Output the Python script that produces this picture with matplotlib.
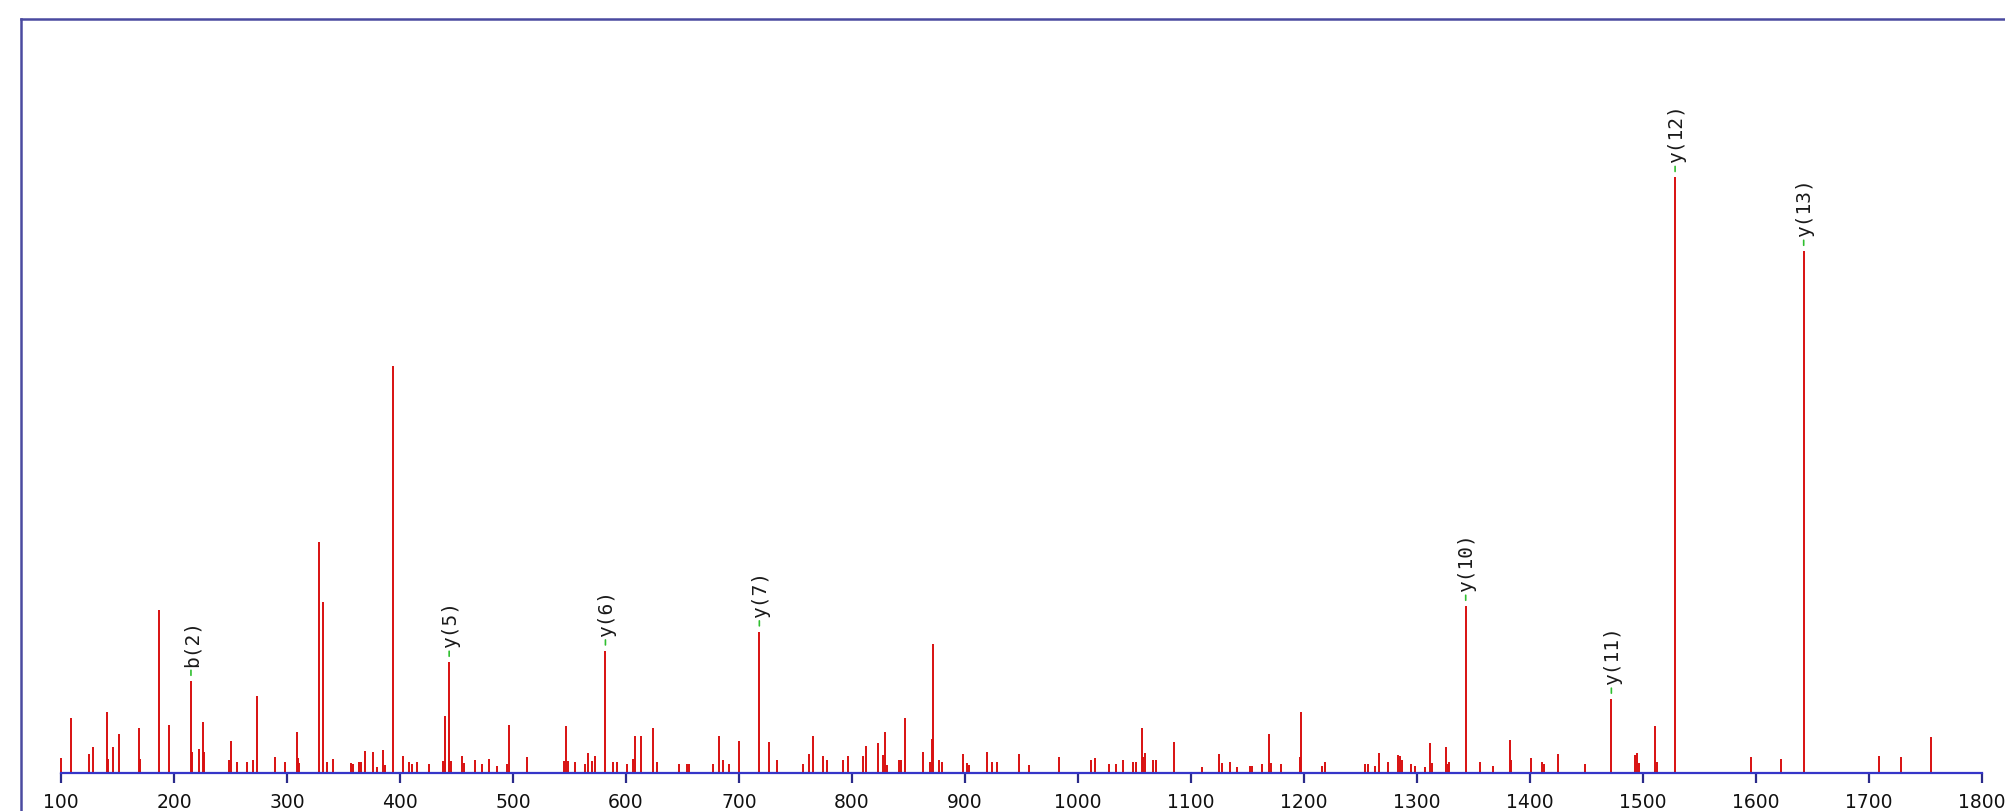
import numpy as np
import matplotlib
matplotlib.use("Agg")
import matplotlib.pyplot as plt
from matplotlib.lines import Line2D

# peak list: m/z and relative intensity (%)
mz = [100.0, 108.8, 124.8, 128.3, 140.7, 141.5, 146.0, 151.3, 169.0, 170.0,
      186.7, 195.6, 215.0, 216.2, 222.0, 225.7, 226.8, 248.7, 250.4, 255.8,
      264.6, 270.0, 273.5, 289.4, 298.2, 308.8, 310.0, 311.0, 328.3, 331.9,
      335.4, 340.7, 356.6, 358.4, 363.7, 365.5, 369.0, 376.3, 379.5, 384.6,
      386.5, 393.7, 402.7, 408.0, 410.7, 415.0, 426.0, 438.3, 439.5, 443.5,
      445.0, 454.9, 457.0, 466.0, 472.7, 479.0, 485.7, 494.4, 496.3, 512.6,
      545.5, 547.0, 549.0, 554.5, 563.6, 566.7, 569.5, 572.6, 581.8, 588.5,
      592.4, 601.0, 606.5, 608.2, 613.7, 624.0, 627.5, 646.9, 654.4, 656.0,
      677.3, 682.1, 686.0, 691.2, 699.8, 718.0, 726.7, 733.8, 756.7, 761.9,
      765.8, 774.2, 778.0, 792.3, 796.3, 810.1, 812.0, 822.7, 827.4, 829.5,
      831.0, 841.7, 843.5, 847.3, 863.0, 869.0, 870.5, 871.3, 877.2, 879.5,
      898.6, 901.8, 903.5, 919.5, 923.5, 928.6, 948.0, 957.0, 983.5, 1011.6,
      1015.1, 1027.8, 1033.3, 1040.0, 1049.1, 1051.0, 1056.2, 1057.8, 1059.4, 1066.5,
      1069.0, 1084.7, 1109.6, 1125.0, 1127.0, 1134.1, 1140.7, 1151.9, 1154.0, 1162.5,
      1169.2, 1171.0, 1179.9, 1196.1, 1197.6, 1215.8, 1218.9, 1254.2, 1256.5, 1262.9,
      1266.5, 1274.0, 1283.1, 1284.8, 1286.5, 1295.0, 1298.0, 1307.5, 1311.2, 1313.0,
      1325.3, 1327.0, 1328.5, 1343.1, 1355.4, 1367.6, 1381.9, 1383.2, 1401.2, 1410.3,
      1412.5, 1424.5, 1449.0, 1472.0, 1493.3, 1494.8, 1496.5, 1510.9, 1512.6, 1528.4,
      1595.9, 1622.4, 1642.2, 1708.6, 1728.4, 1754.9]
intensity = [2.5, 9.2, 3.2, 4.4, 10.2, 2.4, 4.4, 6.5, 7.6, 2.4,
             27.4, 8.1, 15.4, 3.5, 4.0, 8.6, 3.5, 2.2, 5.4, 1.8,
             1.8, 2.2, 12.9, 2.7, 1.8, 6.9, 2.5, 1.7, 38.8, 28.7,
             1.8, 2.4, 1.7, 1.5, 1.8, 1.8, 3.7, 3.5, 1.0, 3.9,
             1.3, 68.4, 2.9, 1.8, 1.5, 1.8, 1.5, 2.0, 9.6, 18.6,
             2.0, 2.9, 1.7, 2.2, 1.5, 2.4, 1.2, 1.5, 8.1, 2.7,
             2.0, 7.9, 2.0, 1.8, 1.5, 3.4, 2.0, 2.9, 20.5, 1.8,
             1.8, 1.5, 2.4, 6.2, 6.2, 7.6, 1.8, 1.5, 1.5, 1.5,
             1.5, 6.2, 2.2, 1.5, 5.4, 23.7, 5.2, 2.2, 1.5, 3.2,
             6.2, 2.9, 2.2, 2.2, 2.9, 2.9, 4.5, 5.0, 3.0, 6.9,
             1.3, 2.2, 2.2, 9.2, 3.5, 1.8, 5.7, 21.7, 2.2, 1.8,
             3.2, 1.7, 1.3, 3.5, 1.8, 1.8, 3.2, 1.3, 2.7, 2.2,
             2.5, 1.5, 1.5, 2.2, 1.8, 1.8, 7.6, 2.7, 3.4, 2.2,
             2.2, 5.2, 1.0, 3.2, 1.7, 1.8, 1.0, 1.2, 1.2, 1.5,
             6.5, 1.7, 1.5, 2.7, 10.2, 1.2, 1.8, 1.5, 1.5, 1.2,
             3.4, 1.8, 3.0, 2.9, 2.2, 1.5, 1.2, 1.0, 5.0, 1.7,
             4.4, 1.5, 1.8, 28.0, 1.8, 1.2, 5.5, 2.2, 2.5, 1.8,
             1.5, 3.2, 1.5, 12.4, 3.0, 3.4, 1.7, 7.9, 1.8, 100.0,
             2.7, 2.4, 87.6, 2.9, 2.7, 6.0]

# annotated fragment ions
ion_mz = [215.0, 443.5, 581.8, 718.0, 1343.1, 1472.0, 1528.4, 1642.2]
ion_labels = ["b(2)", "y(5)", "y(6)", "y(7)", "y(10)", "y(11)", "y(12)", "y(13)"]

W, H = 2005, 812
fig = plt.figure(figsize=(W / 100, H / 100), dpi=100)
fig.patch.set_facecolor("white")

# axes placed so that m/z 100..1800 sits between px 61 and 1982, baseline at px 774
ax = fig.add_axes([61 / W, (H - 774) / H, 1921 / W, (774 - 20) / H])
ax.set_xlim(100, 1800)
ax.set_ylim(0, 126.6)

ax.vlines(mz, 0, intensity, color="#d81010", linewidth=1.4, clip_on=False, zorder=2)

lookup = dict(zip(mz, intensity))
for x, lab in zip(ion_mz, ion_labels):
    top = lookup[x]
    ax.annotate("", xy=(x, top), xytext=(0, 11), textcoords="offset pixels",
                arrowprops=dict(arrowstyle="-", color="#2fbf2f", lw=1.2,
                                shrinkA=0, shrinkB=4.3))
    ax.annotate(lab, xy=(x, top), xytext=(1, 15), textcoords="offset pixels",
                rotation=90, ha="center", va="bottom", color="#1a1a1a",
                family="DejaVu Sans Mono", fontsize=14)

for s in ["top", "left", "right"]:
    ax.spines[s].set_visible(False)
ax.spines["bottom"].set_color("#3535c8")
ax.spines["bottom"].set_linewidth(1.6)
ax.set_yticks([])
ax.set_xticks(np.arange(100, 1801, 100))
ax.tick_params(axis="x", direction="out", length=7.5, width=1.6, color="#2a2a8a",
               pad=6, labelsize=13.5, labelcolor="#111111")
ax.patch.set_alpha(0)

# outer frame (top and left edges visible)
fig.add_artist(Line2D([20.5 / W, 1], [1 - 20 / H, 1 - 20 / H], color="#4a4aa0",
                      linewidth=1.8, transform=fig.transFigure))
fig.add_artist(Line2D([20.5 / W, 20.5 / W], [0, 1 - 20 / H], color="#4a4aa0",
                      linewidth=1.8, transform=fig.transFigure))

fig.savefig("out.png", dpi=100, facecolor="white")
